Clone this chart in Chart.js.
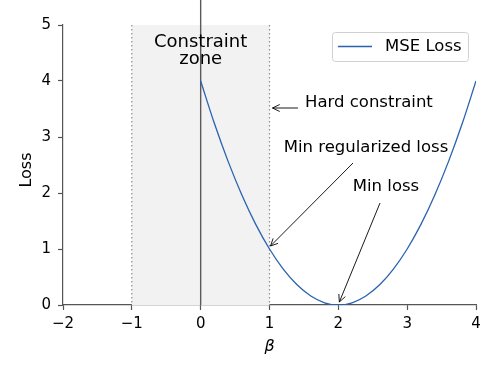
<!DOCTYPE html>
<html>
<head>
<meta charset="utf-8">
<script src="https://cdn.jsdelivr.net/npm/chart.js@4"></script>
<style>
  html, body { margin: 0; padding: 0; background: #fff; }
  #wrap { width: 500px; height: 381px; }
</style>
</head>
<body>
<div id="wrap"><canvas id="chart" width="500" height="381"></canvas></div>
<script>
// values
let betaVals = [0, 0.2, 0.4, 0.6, 0.8, 1.0, 1.2, 1.4, 1.6, 1.8, 2.0, 2.2, 2.4, 2.6, 2.8, 3.0, 3.2, 3.4, 3.6, 3.8, 4.0];
let lossVals = [4, 3.24, 2.56, 1.96, 1.44, 1.0, 0.64, 0.36, 0.16, 0.04, 0, 0.04, 0.16, 0.36, 0.64, 1.0, 1.44, 1.96, 2.56, 3.24, 4];
let seriesName = 'MSE Loss';
let xTicks = [-2, -1, 0, 1, 2, 3, 4];
let yTicks = [0, 1, 2, 3, 4, 5];
let zone = [-1, 1];

let font = '"DejaVu Sans", sans-serif';
let lineColor = '#2a62b0';

let points = [];
betaVals.forEach(function (b, i) {
	points.push({ x: b, y: lossVals[i] });
});

function arrow(ctx, x1, y1, x2, y2) {
	ctx.beginPath();
	ctx.moveTo(x1, y1);
	ctx.lineTo(x2, y2);
	let a = Math.atan2(y2 - y1, x2 - x1);
	let h = 8;
	ctx.moveTo(x2 - h * Math.cos(a - 0.45), y2 - h * Math.sin(a - 0.45));
	ctx.lineTo(x2, y2);
	ctx.lineTo(x2 - h * Math.cos(a + 0.45), y2 - h * Math.sin(a + 0.45));
	ctx.stroke();
}

// shaded zone, dotted edges and the zero line
let backPlugin = {
	id: 'back',
	beforeDatasetsDraw: function (chart) {
		let ctx = chart.ctx, xs = chart.scales.x, ys = chart.scales.y;
		let x0 = xs.getPixelForValue(zone[0]), x1 = xs.getPixelForValue(zone[1]);
		let top = ys.getPixelForValue(5), bot = ys.getPixelForValue(0);
		ctx.save();
		ctx.fillStyle = '#f2f2f2';
		ctx.fillRect(x0, top, x1 - x0, bot - top);
		ctx.strokeStyle = '#8a8a8a';
		ctx.lineWidth = 1.2;
		ctx.setLineDash([1.5, 2.5]);
		[x0, x1].forEach(function (x) {
			ctx.beginPath();
			ctx.moveTo(x, top);
			ctx.lineTo(x, bot);
			ctx.stroke();
		});
		ctx.setLineDash([]);
		let xz = xs.getPixelForValue(0);
		ctx.strokeStyle = '#5a5a5a';
		ctx.lineWidth = 1.4;
		ctx.beginPath();
		ctx.moveTo(xz, 0);
		ctx.lineTo(xz, bot);
		ctx.stroke();
		ctx.restore();
	}
};

// annotations, legend and axis titles
let frontPlugin = {
	id: 'front',
	afterDraw: function (chart) {
		let ctx = chart.ctx, xs = chart.scales.x, ys = chart.scales.y;
		let px = function (v) { return xs.getPixelForValue(v); };
		let py = function (v) { return ys.getPixelForValue(v); };
		ctx.save();
		ctx.fillStyle = '#000';
		ctx.font = '18px ' + font;
		ctx.textAlign = 'center';
		ctx.textBaseline = 'alphabetic';
		ctx.fillText('Constraint', px(0), 47);
		ctx.fillText('zone', px(0), 64);

		ctx.font = '16.5px ' + font;
		ctx.textBaseline = 'middle';
		ctx.textAlign = 'left';
		ctx.fillText('Hard constraint', 305, 103);
		ctx.textAlign = 'center';
		ctx.fillText('Min regularized loss', 366, 148);
		ctx.fillText('Min loss', 386, 187);

		ctx.strokeStyle = '#000';
		ctx.lineWidth = 0.9;
		arrow(ctx, 298, 108, px(1) + 3, 108);
		arrow(ctx, 353, 163, px(1) + 1, py(1) - 3);
		arrow(ctx, 380, 203, px(2) + 1, py(0) - 3);

		// legend
		ctx.fillStyle = 'rgba(255,255,255,0.85)';
		ctx.strokeStyle = '#d0d0d0';
		ctx.lineWidth = 1;
		ctx.beginPath();
		ctx.roundRect(332.5, 32.5, 136, 29, 3);
		ctx.fill();
		ctx.stroke();
		ctx.strokeStyle = lineColor;
		ctx.lineWidth = 1.3;
		ctx.beginPath();
		ctx.moveTo(338, 46.5);
		ctx.lineTo(372, 46.5);
		ctx.stroke();
		ctx.fillStyle = '#000';
		ctx.textAlign = 'left';
		ctx.fillText(seriesName, 385, 47);

		// axis titles
		ctx.textAlign = 'center';
		ctx.font = 'italic 16px ' + font;
		ctx.fillText('β', px(1), 347);
		ctx.font = '16px ' + font;
		ctx.translate(27, 170);
		ctx.rotate(-Math.PI / 2);
		ctx.fillText('Loss', 0, 0);
		ctx.restore();
	}
};

let tickFont = { family: font, size: 15 };

new Chart(document.getElementById('chart'), {
	type: 'scatter',
	data: {
		datasets: [{
			label: seriesName,
			data: points,
			showLine: true,
			borderColor: lineColor,
			borderWidth: 1.3,
			pointRadius: 0,
			tension: 0.4,
			cubicInterpolationMode: 'monotone'
		}]
	},
	options: {
		responsive: false,
		animation: false,
		layout: { padding: { top: 25, right: 24, left: 0, bottom: 0 } },
		plugins: {
			legend: { display: false },
			tooltip: { enabled: false }
		},
		scales: {
			x: {
				type: 'linear',
				min: -2,
				max: 4,
				afterBuildTicks: function (s) { s.ticks = xTicks.map(function (v) { return { value: v }; }); },
				afterFit: function (s) { s.height = 76; },
				grid: { drawOnChartArea: false, color: '#555', tickLength: 5, tickWidth: 1.2 },
				border: { color: '#555', width: 1.2 },
				ticks: {
					color: '#000',
					font: tickFont,
					padding: 5,
					callback: function (v) { return String(v).replace('-', '\u2212'); }
				}
			},
			y: {
				min: 0,
				max: 5,
				afterBuildTicks: function (s) { s.ticks = yTicks.map(function (v) { return { value: v }; }); },
				afterFit: function (s) { s.width = 63; },
				grid: { drawOnChartArea: false, color: '#555', tickLength: 5, tickWidth: 1.2 },
				border: { color: '#555', width: 1.2 },
				ticks: { color: '#000', font: tickFont, padding: 7 }
			}
		}
	},
	plugins: [backPlugin, frontPlugin]
});
</script>
</body>
</html>
